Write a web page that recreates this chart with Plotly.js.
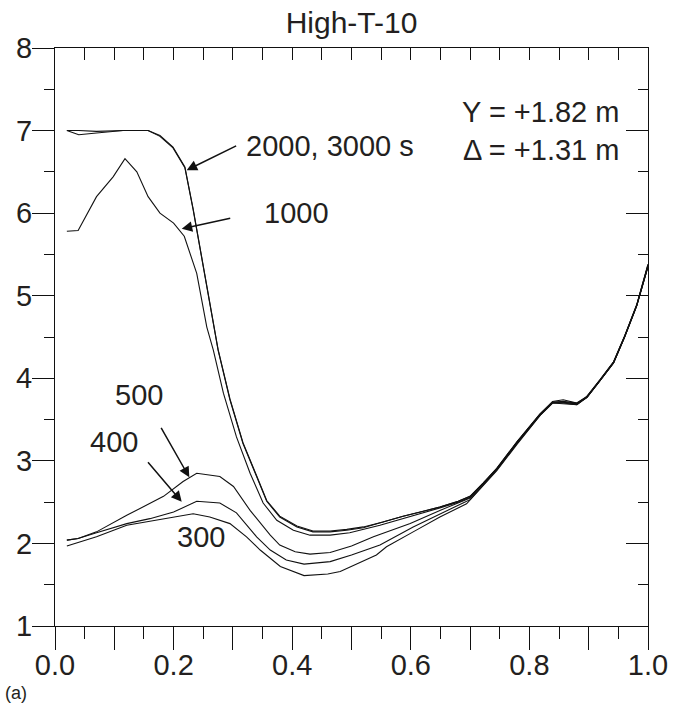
<!DOCTYPE html>
<html>
<head>
<meta charset="utf-8">
<script src="https://cdn.plot.ly/plotly-3.0.1.min.js"></script>
<style>html,body{margin:0;padding:0;background:#fff;}#chart{width:684px;height:710px;}</style>
</head>
<body>
<div id="chart"></div>
<script>
// ---- data ----
const chartTitle = "High-T-10";
const t3000_x = [0.02,0.04,0.07,0.115,0.157,0.177,0.199,0.219,0.233,0.247,0.261,0.275,0.295,0.317,0.340,0.357,0.379,0.408,0.435,0.464,0.492,0.52,0.553,0.587,0.621,0.649,0.68,0.70,0.722,0.745,0.779,0.818,0.839,0.857,0.88,0.897,0.919,0.942,0.961,0.981,1.0];
const t3000_y = [7.0,7.0,6.99,7.0,7.0,6.94,6.8,6.56,6.05,5.48,4.88,4.35,3.75,3.22,2.82,2.52,2.33,2.21,2.15,2.15,2.17,2.2,2.26,2.33,2.39,2.44,2.51,2.57,2.73,2.91,3.23,3.57,3.71,3.71,3.69,3.78,3.98,4.2,4.52,4.89,5.38];
const t2000_x = [0.02,0.04,0.07,0.115,0.157,0.177,0.199,0.219,0.233,0.247,0.261,0.275,0.295,0.317,0.340,0.357,0.379,0.408,0.435,0.464,0.492,0.52,0.553,0.587,0.621,0.649,0.68,0.70,0.722,0.745,0.779,0.818,0.839,0.857,0.88,0.897,0.919,0.942,0.961,0.981,1.0];
const t2000_y = [7.0,6.95,6.97,7.0,7.0,6.93,6.79,6.55,6.04,5.47,4.87,4.34,3.74,3.21,2.81,2.51,2.32,2.20,2.14,2.14,2.16,2.19,2.26,2.33,2.39,2.44,2.51,2.57,2.73,2.91,3.23,3.57,3.72,3.74,3.70,3.78,3.98,4.20,4.52,4.89,5.38];
const t1000_x = [0.02,0.039,0.07,0.098,0.118,0.138,0.157,0.177,0.2,0.218,0.239,0.256,0.267,0.284,0.306,0.329,0.351,0.374,0.402,0.43,0.464,0.497,0.548,0.587,0.621,0.649,0.68,0.70,0.722,0.745,0.779,0.818,0.839,0.857,0.88,0.897,0.919,0.942,0.961,0.981,1.0];
const t1000_y = [5.78,5.79,6.2,6.44,6.66,6.5,6.2,6.0,5.88,5.72,5.27,4.62,4.34,3.82,3.29,2.85,2.49,2.28,2.16,2.10,2.10,2.13,2.22,2.30,2.37,2.43,2.50,2.56,2.72,2.90,3.22,3.56,3.71,3.72,3.70,3.77,3.97,4.19,4.51,4.88,5.36];
const t500_x = [0.02,0.039,0.07,0.121,0.183,0.216,0.239,0.278,0.301,0.329,0.363,0.379,0.405,0.43,0.464,0.50,0.537,0.599,0.649,0.683,0.70,0.722,0.745,0.779,0.818,0.839,0.857,0.88,0.897,0.919,0.942,0.961,0.981,1.0];
const t500_y = [2.04,2.06,2.14,2.34,2.57,2.75,2.85,2.81,2.69,2.40,2.10,1.98,1.90,1.87,1.89,1.97,2.08,2.24,2.40,2.50,2.55,2.72,2.90,3.22,3.56,3.71,3.71,3.69,3.77,3.97,4.19,4.51,4.88,5.36];
const t400_x = [0.02,0.039,0.07,0.121,0.16,0.2,0.239,0.278,0.306,0.34,0.363,0.39,0.42,0.464,0.50,0.548,0.604,0.649,0.688,0.70,0.722,0.745,0.779,0.818,0.839,0.857,0.88,0.897,0.919,0.942,0.961,0.981,1.0];
const t400_y = [2.04,2.06,2.13,2.24,2.30,2.38,2.51,2.49,2.37,2.08,1.92,1.80,1.75,1.78,1.86,1.98,2.20,2.36,2.49,2.53,2.71,2.89,3.21,3.55,3.70,3.70,3.68,3.77,3.97,4.19,4.51,4.88,5.36];
const t300_x = [0.02,0.07,0.121,0.2,0.233,0.261,0.295,0.323,0.346,0.38,0.42,0.46,0.481,0.542,0.559,0.604,0.649,0.694,0.722,0.745,0.779,0.818,0.839,0.857,0.88,0.897,0.919,0.942,0.961,0.981,1.0];
const t300_y = [1.97,2.08,2.22,2.32,2.36,2.32,2.24,2.08,1.92,1.72,1.61,1.63,1.66,1.86,1.96,2.14,2.32,2.48,2.70,2.88,3.20,3.55,3.70,3.69,3.68,3.77,3.97,4.19,4.51,4.88,5.35];

const xTickVals = [0,0.1,0.2,0.3,0.4,0.5,0.6,0.7,0.8,0.9,1.0];
const xTickText = ["0.0","","0.2","","0.4","","0.6","","0.8","","1.0"];
const yTickVals = [1,2,3,4,5,6,7,8];
const yTickText = ["1","2","3","4","5","6","7","8"];
const infoLines = ["Y = +1.82 m", "\u0394 = +1.31 m"];
const curveLabels = ["2000, 3000 s", "1000", "500", "400", "300"];

// ---- plot ----
const FONT = "Liberation Sans, Arial, Helvetica, sans-serif";
const TXT = "#231f20";
const line = {color: "#111", width: 1.1};
const series = [[t3000_x,t3000_y],[t2000_x,t2000_y],[t1000_x,t1000_y],[t500_x,t500_y],[t400_x,t400_y],[t300_x,t300_y]];
const traces = series.map(s => ({x: s[0], y: s[1], type: "scatter", mode: "lines", line: line, hoverinfo: "skip", showlegend: false}));
traces.push({x: [0,1], y: [1,8], xaxis: "x2", yaxis: "y2", mode: "markers", marker: {opacity: 0}, hoverinfo: "skip", showlegend: false});

const axBase = {showgrid: false, zeroline: false, showline: true, linecolor: "#111", linewidth: 1, tickcolor: "#111", tickwidth: 1, tickfont: {family: FONT, size: 29, color: TXT}};

const layout = {
  width: 684, height: 710,
  margin: {l: 55, r: 36, t: 48, b: 84},
  paper_bgcolor: "#fff", plot_bgcolor: "#fff",
  title: {text: chartTitle, font: {family: FONT, size: 30, color: TXT}, x: 0.5, xref: "paper", xanchor: "center", y: 1 - 22/710, yref: "container", yanchor: "middle"},
  xaxis: Object.assign({}, axBase, {range: [0, 1], tickmode: "array", tickvals: xTickVals, ticktext: xTickText, ticks: "outside", ticklen: 23, ticklabelstandoff: -10,
    minor: {dtick: 0.05, ticks: "outside", ticklen: 12, tickcolor: "#111", tickwidth: 1, showgrid: false}}),
  yaxis: Object.assign({}, axBase, {range: [1, 8], tickmode: "array", tickvals: yTickVals, ticktext: yTickText, ticks: "outside", ticklen: 22, ticklabelstandoff: -6,
    minor: {dtick: 0.5, ticks: "outside", ticklen: 10, tickcolor: "#111", tickwidth: 1, showgrid: false}}),
  xaxis2: Object.assign({}, axBase, {range: [0, 1], overlaying: "x", side: "top", tickmode: "array", tickvals: xTickVals, ticktext: xTickVals.map(() => ""), ticks: "inside", ticklen: 23, showticklabels: false,
    minor: {dtick: 0.05, ticks: "inside", ticklen: 12, tickcolor: "#111", tickwidth: 1, showgrid: false}}),
  yaxis2: Object.assign({}, axBase, {range: [1, 8], overlaying: "y", side: "right", tickmode: "array", tickvals: yTickVals, ticks: "inside", ticklen: 22, showticklabels: false,
    minor: {dtick: 0.5, ticks: "inside", ticklen: 10, tickcolor: "#111", tickwidth: 1, showgrid: false}}),
  annotations: []
};

const px2x = px => (px - 55) / 593;
const py2y = py => (626 - py) / 578;
const tf = {family: FONT, size: 29, color: TXT};
function txt(text, px, py, xanchor) {
  layout.annotations.push({text: text, xref: "paper", yref: "paper", x: px2x(px), y: py2y(py), xanchor: xanchor, yanchor: "middle", showarrow: false, font: tf});
}
txt(curveLabels[0], 244, 146, "left");
txt(curveLabels[1], 262, 213, "left");
txt(curveLabels[2], 113, 395, "left");
txt(curveLabels[3], 88, 442, "left");
txt(curveLabels[4], 175, 537, "left");
txt(infoLines[0], 621, 112, "right");
txt(infoLines[1], 621, 150, "right");

function arrow(x, y, ax, ay) {
  layout.annotations.push({text: "", x: x, y: y, xref: "x", yref: "y", ax: ax, ay: ay, showarrow: true, arrowhead: 2, arrowsize: 1.4, arrowwidth: 1.5, arrowcolor: "#111", standoff: 0});
}
arrow(0.222, 6.52, 51, -25);
arrow(0.2137, 5.81, 50, -11);
arrow(0.2265, 2.80, -29, -51);
arrow(0.2137, 2.505, -35, -41);

layout.annotations.push({text: "(a)", xref: "paper", yref: "paper", x: px2x(3), y: py2y(693), xanchor: "left", yanchor: "middle", showarrow: false, font: {family: FONT, size: 18, color: TXT}});

Plotly.newPlot("chart", traces, layout, {displayModeBar: false, staticPlot: true});
</script>
</body>
</html>
